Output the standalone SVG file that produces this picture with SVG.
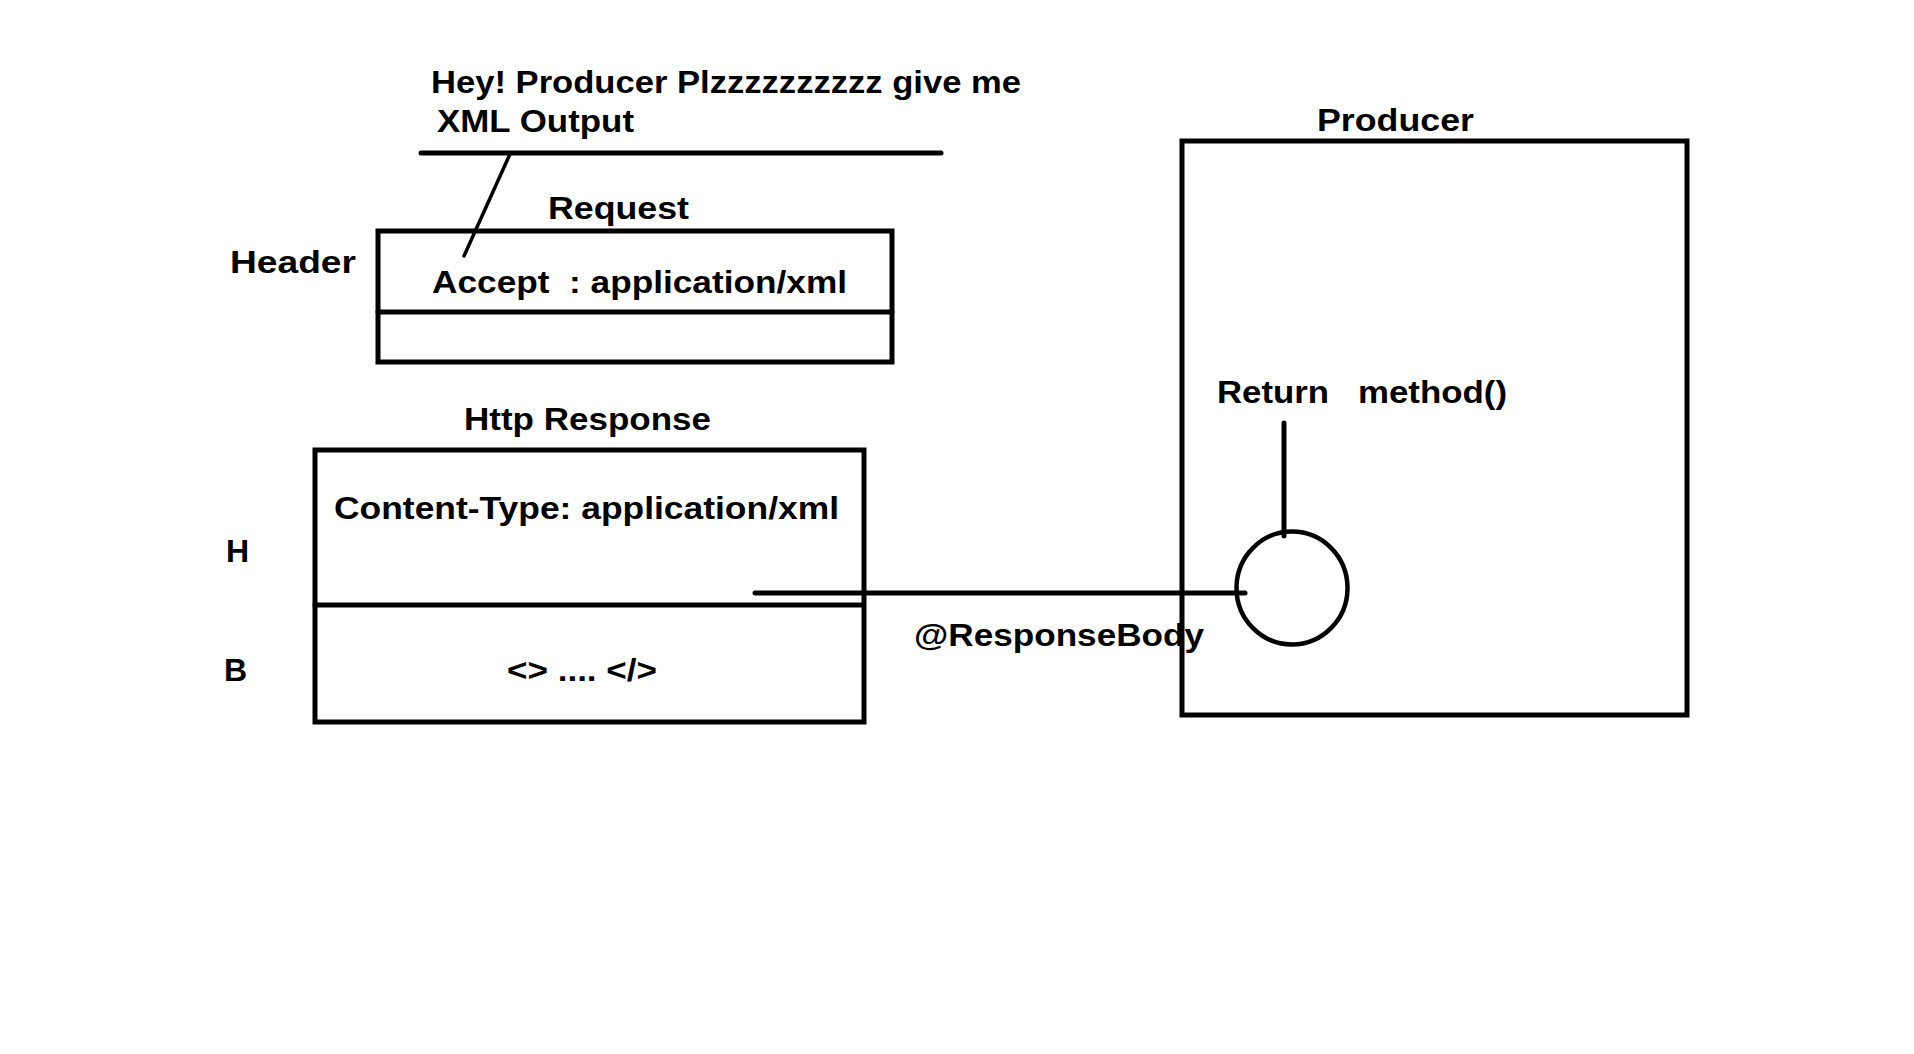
<svg xmlns="http://www.w3.org/2000/svg" width="1914" height="1054" viewBox="0 0 1914 1054">
  <style>
    .t { font-family: "Liberation Sans", Arial, sans-serif; font-weight: bold; font-size: 32px; fill: #000; white-space: pre; }
    .box { fill: none; stroke: #000; stroke-width: 5; }
    .ln { fill: none; stroke: #000; stroke-width: 5; stroke-linecap: round; }
    .thin { fill: none; stroke: #000; stroke-width: 3.5; stroke-linecap: round; }
  </style>
  <rect x="0" y="0" width="1914" height="1054" fill="#fff"/>

  <g id="note">
    <text class="t" x="431" y="93" textLength="590" lengthAdjust="spacingAndGlyphs">Hey! Producer Plzzzzzzzzzz give me</text>
    <text class="t" x="437" y="132" textLength="197" lengthAdjust="spacingAndGlyphs">XML Output</text>
    <line class="ln" x1="421" y1="153" x2="941" y2="153"/>
  </g>

  <g id="request">
    <text class="t" x="548" y="219" textLength="141" lengthAdjust="spacingAndGlyphs">Request</text>
    <text class="t" x="230" y="273" textLength="126" lengthAdjust="spacingAndGlyphs">Header</text>
    <rect class="box" x="378" y="231" width="514" height="131"/>
    <line class="ln" x1="378" y1="312" x2="892" y2="312"/>
    <text class="t" x="432" y="293" textLength="415" lengthAdjust="spacingAndGlyphs">Accept  : application/xml</text>
  </g>

  <g id="response">
    <text class="t" x="464" y="430" textLength="247" lengthAdjust="spacingAndGlyphs">Http Response</text>
    <rect class="box" x="315" y="450" width="549" height="272"/>
    <line class="ln" x1="315" y1="605" x2="862" y2="605"/>
    <text class="t" x="334" y="519" textLength="505" lengthAdjust="spacingAndGlyphs">Content-Type: application/xml</text>
    <text class="t" x="226" y="562">H</text>
    <text class="t" x="224" y="681">B</text>
    <text class="t" x="507" y="681" textLength="150" lengthAdjust="spacingAndGlyphs">&lt;&gt; .... &lt;/&gt;</text>
  </g>

  <g id="producer">
    <text class="t" x="1317" y="131" textLength="157" lengthAdjust="spacingAndGlyphs">Producer</text>
    <rect class="box" x="1182" y="141" width="505" height="574"/>
    <text class="t" y="403"><tspan x="1217" textLength="112" lengthAdjust="spacingAndGlyphs">Return</tspan><tspan x="1358" textLength="149" lengthAdjust="spacingAndGlyphs">method()</tspan></text>
    <ellipse cx="1292" cy="588" rx="55.5" ry="56.5" fill="none" stroke="#000" stroke-width="4.5"/>
  </g>

  <g id="connectors">
    <line class="thin" x1="510" y1="154" x2="464" y2="256"/>
    <line class="ln" x1="1284" y1="423" x2="1284" y2="536"/>
    <line class="ln" x1="755" y1="593" x2="1245" y2="593"/>
    <text class="t" x="914" y="646" textLength="290" lengthAdjust="spacingAndGlyphs">@ResponseBody</text>
  </g>
</svg>
